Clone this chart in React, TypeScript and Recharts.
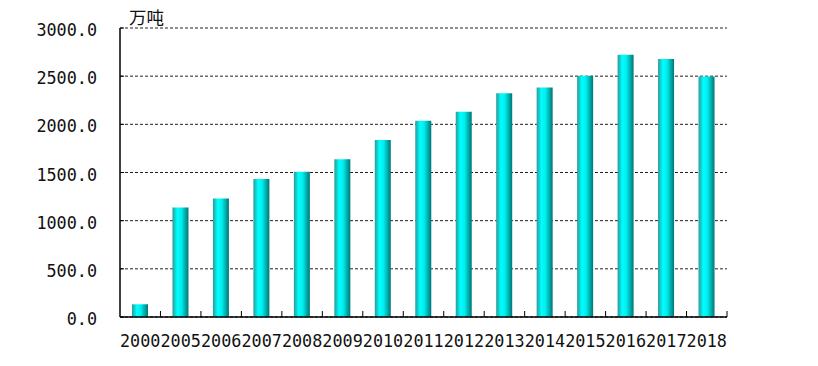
import React from 'react';
import { BarChart, Bar, XAxis, YAxis, CartesianGrid } from 'recharts';

const years = ['2000', '2005', '2006', '2007', '2008', '2009', '2010', '2011', '2012', '2013', '2014', '2015', '2016', '2017', '2018'];
const output = [132, 1137, 1230, 1432, 1508, 1637, 1837, 2038, 2131, 2322, 2382, 2505, 2723, 2678, 2497];
const yTicks = [0, 500, 1000, 1500, 2000, 2500, 3000];
const unitLabel = '万吨';

const data = years.map((y, i) => ({ year: y, value: output[i] }));

const W = 818;
const H = 366;
const PLOT_LEFT = 120;
const PLOT_RIGHT = 727;
const PLOT_TOP = 28;
const PLOT_BOTTOM = 317;
const BAND = (PLOT_RIGHT - PLOT_LEFT) / years.length;
const FONT = '"DejaVu Sans Mono", monospace';

const XTick = (props: any) => {
  const { x, y, payload } = props;
  return (
    <g>
      <line x1={x + BAND / 2} x2={x + BAND / 2} y1={y - 6} y2={y} stroke="#000" strokeWidth={1} />
      <text x={x} y={y + 30} textAnchor="middle" fontFamily={FONT} fontSize={16.8} fill="#111">
        {payload.value}
      </text>
    </g>
  );
};

const YTick = (props: any) => {
  const { x, y, payload } = props;
  return (
    <g>
      <line x1={PLOT_LEFT} x2={PLOT_LEFT + 4} y1={y} y2={y} stroke="#000" strokeWidth={1} />
      <text x={97} y={y + 8} textAnchor="end" fontFamily={FONT} fontSize={16.8} fill="#111">
        {Number(payload.value).toFixed(1)}
      </text>
    </g>
  );
};

export default function App() {
  return (
    <div style={{ position: 'absolute', left: 0, top: 0, width: W, height: H, background: '#fff' }}>
      <BarChart
        width={W}
        height={H}
        data={data}
        margin={{ top: PLOT_TOP, right: W - PLOT_RIGHT, bottom: 19, left: 0 }}
        barSize={16}
      >
        <defs>
          <linearGradient id="barGrad" x1="0" y1="0" x2="1" y2="0">
            <stop offset="0%" stopColor="#2a9a9a" />
            <stop offset="30%" stopColor="#00ffff" />
            <stop offset="55%" stopColor="#00eeee" />
            <stop offset="100%" stopColor="#007676" />
          </linearGradient>
        </defs>
        <CartesianGrid vertical={false} stroke="#222" strokeDasharray="3 2" />
        <XAxis
          dataKey="year"
          interval={0}
          tickLine={false}
          tickSize={0}
          tickMargin={0}
          height={PLOT_BOTTOM === 317 ? 30 : 30}
          axisLine={{ stroke: '#000', strokeWidth: 1.5 }}
          tick={<XTick />}
        />
        <YAxis
          width={PLOT_LEFT}
          domain={[0, 3000]}
          ticks={yTicks}
          interval={0}
          tickLine={false}
          axisLine={{ stroke: '#000', strokeWidth: 1.5 }}
          tick={<YTick />}
        />
        <Bar dataKey="value" fill="url(#barGrad)" isAnimationActive={false} />
        <text x={129} y={23.5} fontFamily='"Noto Sans CJK SC", sans-serif' fontSize={17.5} fill="#111">
          {unitLabel}
        </text>
      </BarChart>
    </div>
  );
}
